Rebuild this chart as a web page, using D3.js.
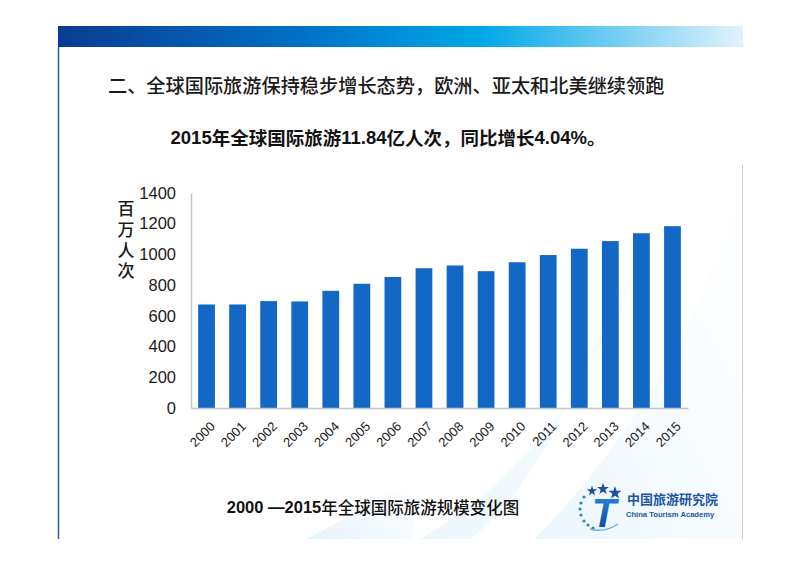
<!DOCTYPE html>
<html>
<head>
<meta charset="utf-8">
<script src="https://cdn.jsdelivr.net/npm/d3@7"></script>
<style>
body{margin:0;background:#fff;}
svg{display:block;}
</style>
</head>
<body>
<script>
// data
var years = ["2000","2001","2002","2003","2004","2005","2006","2007","2008","2009","2010","2011","2012","2013","2014","2015"];
var arrivals = [674,674,696,694,763,809,853,910,928,891,949,996,1037,1087,1138,1184];
var yTicks = [0,200,400,600,800,1000,1200,1400];
var yLabel = ["百","万","人","次"];

var width = 800, height = 565;
var cjk = "'Noto Sans CJK SC','Noto Sans',sans-serif";
var arial = "'Liberation Sans',Arial,sans-serif";

var svg = d3.select("body").append("svg")
    .attr("width", width)
    .attr("height", height);

var defs = svg.append("defs");
var band = defs.append("linearGradient").attr("id","band");
band.append("stop").attr("offset","0%").attr("stop-color","#0a3c92");
band.append("stop").attr("offset","35%").attr("stop-color","#0070c4");
band.append("stop").attr("offset","62%").attr("stop-color","#00a8e8");
band.append("stop").attr("offset","100%").attr("stop-color","#e2f2fb");

var swoosh = defs.append("linearGradient").attr("id","swoosh")
    .attr("x1","0%").attr("y1","100%").attr("x2","100%").attr("y2","0%");
swoosh.append("stop").attr("offset","0%").attr("stop-color","#cde9f8").attr("stop-opacity",0.8);
swoosh.append("stop").attr("offset","100%").attr("stop-color","#f3fafe").attr("stop-opacity",0.2);

var tGrad = defs.append("linearGradient").attr("id","tgrad")
    .attr("x1","0%").attr("y1","0%").attr("x2","0%").attr("y2","100%");
tGrad.append("stop").attr("offset","0%").attr("stop-color","#2a8be0");
tGrad.append("stop").attr("offset","100%").attr("stop-color","#0c3f95");

// background swooshes (decoration, faint)
var bg = svg.append("g");
bg.append("path")
    .attr("d","M307,539 L414,480 L414,539 Z")
    .attr("fill","url(#swoosh)").attr("opacity",0.7);
bg.append("path")
    .attr("d","M420,539 Q540,470 610,330 Q650,250 700,160 Q610,300 560,420 Q520,500 470,539 Z")
    .attr("fill","url(#swoosh)").attr("opacity",0.5);
bg.append("path")
    .attr("d","M535,539 Q640,430 700,300 Q730,220 742,150 L742,539 Z")
    .attr("fill","url(#swoosh)").attr("opacity",0.5);

// slide frame
svg.append("rect")
    .attr("x",58).attr("y",26).attr("width",685).attr("height",21)
    .attr("fill","url(#band)");
svg.append("line")
    .attr("x1",58.5).attr("x2",58.5).attr("y1",47).attr("y2",539)
    .attr("stroke","#2d5d9c").attr("stroke-width",1.5);
svg.append("line")
    .attr("x1",742.5).attr("x2",742.5).attr("y1",165).attr("y2",539)
    .attr("stroke","#cfcfcf").attr("stroke-width",1);

// headings
svg.append("text")
    .attr("x",108).attr("y",85)
    .attr("dominant-baseline","central")
    .style("font-family",cjk).style("font-size","19.2px").style("font-weight",500)
    .attr("fill","#1a1a1a")
    .text("二、全球国际旅游保持稳步增长态势，欧洲、亚太和北美继续领跑");

var sub = svg.append("text")
    .attr("x",388).attr("y",137)
    .attr("text-anchor","middle").attr("dominant-baseline","central")
    .style("font-size","18.5px").style("font-weight","bold")
    .attr("fill","#111");
sub.append("tspan").style("font-family",arial).text("2015");
sub.append("tspan").style("font-family",cjk).text("年全球国际旅游");
sub.append("tspan").style("font-family",arial).text("11.84");
sub.append("tspan").style("font-family",cjk).text("亿人次，同比增长");
sub.append("tspan").style("font-family",arial).text("4.04%");
sub.append("tspan").style("font-family",cjk).text("。");

// chart
var x = d3.scaleBand()
    .domain(years)
    .range([191, 688])
    .paddingInner(0.46)
    .paddingOuter(0.23);

var y = d3.scaleLinear()
    .domain([0, 1400])
    .range([408, 193]);

svg.selectAll(".bar")
    .data(years)
  .enter().append("rect")
    .attr("class","bar")
    .attr("x", function(d){ return x(d); })
    .attr("width", x.bandwidth())
    .attr("y", function(d,i){ return y(arrivals[i]); })
    .attr("height", function(d,i){ return y(0) - y(arrivals[i]); })
    .attr("fill","#1368c6");

// y axis
var yAxis = svg.append("g")
    .attr("transform","translate(191,0)")
    .call(d3.axisLeft(y).tickValues(yTicks).tickFormat(d3.format("d")).tickSize(0).tickPadding(15));
yAxis.select(".domain").attr("stroke","#c4c4c4").attr("stroke-width",1.5);
yAxis.selectAll("text")
    .style("font-family",arial).style("font-size","16.5px").attr("fill","#1a1a1a");

// x axis
var xAxis = svg.append("g")
    .attr("transform","translate(0,408)")
    .call(d3.axisBottom(x).tickSize(0).tickSizeOuter(0));
xAxis.select(".domain").attr("stroke","#c4c4c4").attr("stroke-width",1.5);
xAxis.selectAll("text")
    .style("font-family",arial).style("font-size","13px").attr("fill","#1a1a1a")
    .attr("text-anchor","end")
    .attr("dy","0.35em")
    .attr("y",0)
    .attr("transform","translate(6,16) rotate(-45)");

// y axis title, written top to bottom
svg.append("text")
    .attr("x",126).attr("y",200)
    .style("writing-mode","vertical-rl")
    .style("font-family",cjk).style("font-size","17px").style("font-weight",500)
    .style("letter-spacing","3.8px")
    .attr("fill","#1a1a1a")
    .text(yLabel.join(""));

// caption
var cap = svg.append("text")
    .attr("x",373).attr("y",507)
    .attr("text-anchor","middle").attr("dominant-baseline","central")
    .style("font-size","16.5px").attr("fill","#111");
cap.append("tspan").style("font-family",arial).style("font-weight","bold").text("2000 \u20142015");
cap.append("tspan").style("font-family",cjk).style("font-weight",500).text("年全球国际旅游规模变化图");

// logo
var logo = svg.append("g");
var stars = [[592,491,34],[603,489,44],[615,493,54]];
logo.selectAll(".star")
    .data(stars)
  .enter().append("path")
    .attr("class","star")
    .attr("transform", function(d){ return "translate(" + d[0] + "," + d[1] + ")"; })
    .attr("d", function(d){ return d3.symbol().type(d3.symbolStar).size(d[2])(); })
    .attr("fill","#1b4e9e");
var dots = [[584,497],[581,503],[580,509],[581,515],[584,521],[588,525],[593,528]];
logo.selectAll(".dot")
    .data(dots)
  .enter().append("circle")
    .attr("cx",function(d){ return d[0]; })
    .attr("cy",function(d){ return d[1]; })
    .attr("r",1.6)
    .attr("fill","#2a7fd6");
logo.append("text")
    .attr("x",604).attr("y",527)
    .attr("text-anchor","middle")
    .style("font-family",arial).style("font-size","40px").style("font-weight","bold")
    .style("font-style","italic")
    .attr("fill","url(#tgrad)")
    .text("T");
logo.append("path")
    .attr("d","M590,529 Q605,533 618,524")
    .attr("fill","none").attr("stroke","#5fb4ec").attr("stroke-width",1.5);
logo.append("text")
    .attr("x",627).attr("y",504)
    .style("font-family",cjk).style("font-size","13px").style("font-weight","bold")
    .attr("fill","#1b55a8")
    .text("中国旅游研究院");
logo.append("text")
    .attr("x",626).attr("y",517)
    .style("font-family",arial).style("font-size","7.6px").style("font-weight","bold")
    .attr("fill","#1b55a8")
    .text("China Tourism Academy");
</script>
</body>
</html>
